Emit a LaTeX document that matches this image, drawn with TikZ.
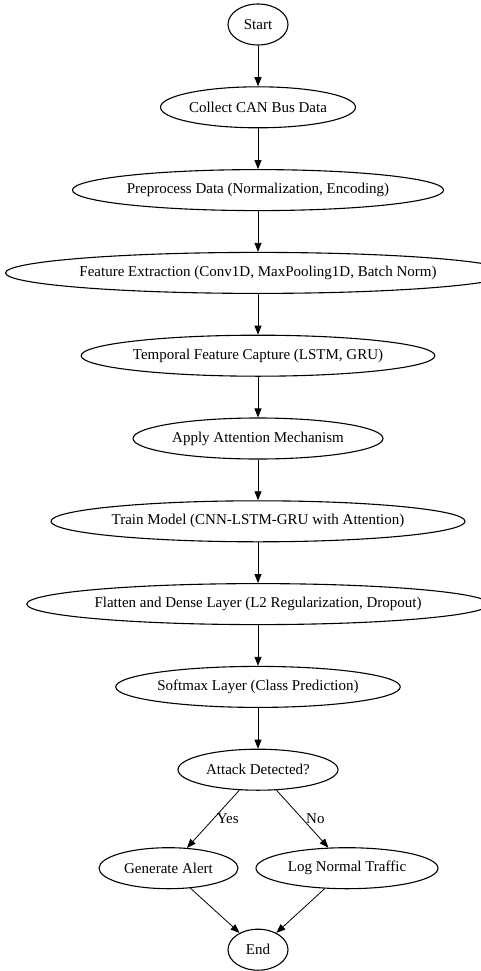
\documentclass[tikz,border=0pt]{standalone}
\usepackage{fontspec}
\setmainfont{Liberation Serif}
\usetikzlibrary{shapes.geometric,arrows.meta}

\begin{document}
\begin{tikzpicture}[
  stage/.style={ellipse, draw, line width=1.1pt, inner xsep=0pt, inner ysep=0pt, minimum height=41pt, minimum width=60pt},
  node distance=82.8pt,
  >={Triangle[length=9pt,width=7pt]},
  font=\fontsize{15}{18}\selectfont
]
\useasboundingbox (0,0) rectangle (480pt,-971pt);

% Main pipeline
\node[stage] (start) at (258pt,-24.5pt) {Start};
\node[stage, below of=start] (collect) {Collect CAN Bus Data};
\node[stage, below of=collect] (preproc) {Preprocess Data (Normalization, Encoding)};
\node[stage, below of=preproc] (features) {Feature Extraction (Conv1D, MaxPooling1D, Batch Norm)};
\node[stage, below of=features] (temporal) {Temporal Feature Capture (LSTM, GRU)};
\node[stage, below of=temporal, minimum width=250pt] (attention) {Apply Attention Mechanism};
\node[stage, below of=attention] (train) {Train Model (CNN-LSTM-GRU with Attention)};
\node[stage, below of=train] (dense) {Flatten and Dense Layer (L2 Regularization, Dropout)};
\node[stage, below of=dense] (softmax) {Softmax Layer (Class Prediction)};

% Decision
\node[stage, below of=softmax, minimum width=160pt] (attack) {Attack Detected?};
\node[stage, below of=attack, node distance=98.5pt, xshift=-89.5pt, minimum width=139pt] (alert) {Generate Alert};
\node[stage, below of=attack, node distance=98.5pt, xshift=89pt, minimum width=182pt] (lognormal) {Log Normal Traffic};
\node[stage, below of=attack, node distance=180pt] (finish) {End};

% Arrows
\draw[->,thick] (start) -- (collect);
\draw[->,thick] (collect) -- (preproc);
\draw[->,thick] (preproc) -- (features);
\draw[->,thick] (features) -- (temporal);
\draw[->,thick] (temporal) -- (attention);
\draw[->,thick] (attention) -- (train);
\draw[->,thick] (train) -- (dense);
\draw[->,thick] (dense) -- (softmax);
\draw[->,thick] (softmax) -- (attack);
\draw[->,thick] (attack) -- node[right] {Yes} (alert);
\draw[->,thick] (attack) -- node[right] {No} (lognormal);
\draw[->,thick] (alert) -- (finish);
\draw[->,thick] (lognormal) -- (finish);
\end{tikzpicture}
\end{document}
